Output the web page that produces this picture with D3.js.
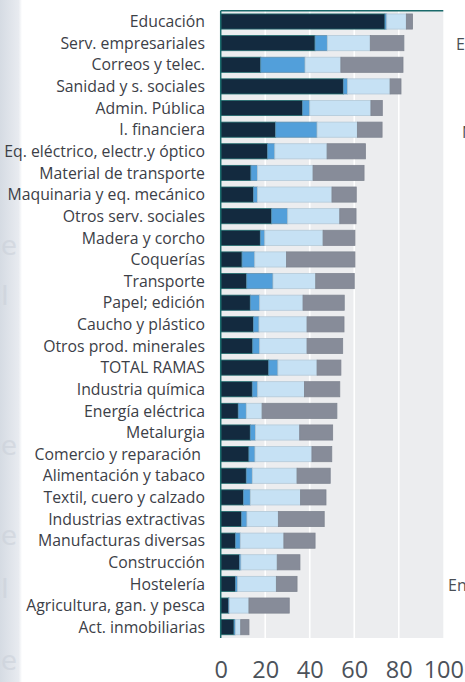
<!DOCTYPE html>
<html>
<head>
<meta charset="utf-8">
<script src="https://cdn.jsdelivr.net/npm/d3@7"></script>
<style>
html,body{margin:0;padding:0;background:#fff;}
svg{display:block;}
</style>
</head>
<body>
<svg id="chart" width="465" height="682"></svg>
<script>
const categories = ["Educación","Serv. empresariales","Correos y telec.","Sanidad y s. sociales","Admin. Pública","I. financiera","Eq. eléctrico, electr.y óptico","Material de transporte","Maquinaria y eq. mecánico","Otros serv. sociales","Madera y corcho","Coquerías","Transporte","Papel; edición","Caucho y plástico","Otros prod. minerales","TOTAL RAMAS","Industria química","Energía eléctrica","Metalurgia","Comercio y reparación ","Alimentación y tabaco","Textil, cuero y calzado","Industrias extractivas","Manufacturas diversas","Construcción","Hostelería","Agricultura, gan. y pesca","Act. inmobiliarias"];
const serie1 = [73.8,42.4,18.0,55.1,36.8,24.7,21.1,13.6,14.7,22.9,17.8,9.6,11.7,13.3,14.7,14.4,21.6,14.2,7.9,13.3,12.7,11.5,10.2,9.4,6.7,8.4,6.6,3.6,6.0];
const serie2 = [0.8,5.5,19.9,1.9,3.2,18.6,3.2,2.9,1.8,7.2,2.0,5.7,11.8,4.2,2.5,3.1,4.1,2.4,3.6,2.3,2.7,2.7,3.1,2.4,2.1,0.7,1.0,0.3,0.6];
const serie3 = [8.8,19.3,16.1,19.1,27.5,18.1,23.5,25.0,33.5,23.4,26.2,14.3,19.2,19.5,21.6,21.3,17.6,21.0,7.1,19.9,25.6,20.1,22.6,14.1,19.6,16.3,17.4,8.8,2.4];
const serie4 = [2.8,15.1,27.9,4.9,5.1,11.1,17.2,22.9,10.9,7.3,14.3,30.7,17.3,18.5,16.6,16.0,10.7,15.9,33.6,14.8,8.9,14.9,11.4,20.6,14.0,10.2,9.3,18.1,3.7];
const xTicks = [0,20,40,60,80,100];

const colors = ["#132a3f","#529fda","#c6e1f4","#878c99"];
const strokes = ["#1e6b6d","#5d8fb0","#b3c9d8","#7f8591"];

const svg = d3.select("#chart");
const mLeft = 220.7, mRight = 443.3, mTop = 10.7, mBottom = 638;

// left decorative faded band (background image in the original)
const defs = svg.append("defs");
const grad = defs.append("linearGradient").attr("id","band").attr("x1","0").attr("x2","1");
grad.append("stop").attr("offset","0").attr("stop-color","#d5dbe3");
grad.append("stop").attr("offset","0.85").attr("stop-color","#e8ebf0");
grad.append("stop").attr("offset","1").attr("stop-color","#ffffff");
svg.append("rect").attr("x",0).attr("y",0).attr("width",22).attr("height",682).attr("fill","url(#band)");
const deco = [["e",255],["I",305],["e",455],["e",545],["I",598],["e",670]];
svg.append("g").selectAll("text").data(deco).join("text")
  .attr("x",1).attr("y",d=>d[1])
  .attr("font-family","DejaVu Sans").attr("font-size",26)
  .attr("fill","#c9cfd8").attr("opacity",0.55)
  .text(d=>d[0]);

const x = d3.scaleLinear().domain([0,100]).range([mLeft,mRight]);
const y = d3.scaleBand().domain(categories).range([mTop,mBottom]).paddingInner(0.3).paddingOuter(0.15);

// plot background
svg.append("rect").attr("x",mLeft).attr("y",mTop).attr("width",mRight-mLeft).attr("height",mBottom-mTop).attr("fill","#ecedef");
// gridlines
svg.append("g").selectAll("line").data(xTicks.slice(1,5)).join("line")
  .attr("x1",d=>x(d)).attr("x2",d=>x(d)).attr("y1",mTop).attr("y2",mBottom)
  .attr("stroke","#ffffff").attr("stroke-width",1.6);

const rows = categories.map((c,i)=>({c, v:[serie1[i],serie2[i],serie3[i],serie4[i]]}));
const stackData = rows.map(r=>{
  let acc=0; return r.v.map((v,k)=>{const s={c:r.c,k,x0:acc,x1:acc+v}; acc+=v; return s;});
}).flat();

svg.append("g").selectAll("rect").data(stackData).join("rect")
  .attr("x",d=>x(d.x0)).attr("width",d=>Math.max(0,x(d.x1)-x(d.x0)))
  .attr("y",d=>y(d.c)).attr("height",y.bandwidth())
  .attr("fill",d=>colors[d.k]).attr("stroke",d=>strokes[d.k]).attr("stroke-width",0.8);

// axes lines
svg.append("line").attr("x1",mLeft).attr("x2",mLeft).attr("y1",mTop).attr("y2",mBottom).attr("stroke","#1a6a6b").attr("stroke-width",1.5);
svg.append("line").attr("x1",mLeft).attr("x2",mRight).attr("y1",mTop).attr("y2",mTop).attr("stroke","#1a6a6b").attr("stroke-width",1.5);

// category labels
svg.append("g").selectAll("text").data(categories).join("text")
  .attr("x",205).attr("y",d=>y(d)+y.bandwidth()/2)
  .attr("dy","0.36em").attr("text-anchor","end")
  .attr("font-family","Open Sans").attr("font-size",15.8)
  .attr("fill","#3c4047").style("white-space","pre")
  .text(d=>d);

// x tick labels
const xAxis = d3.axisBottom(x).tickValues(xTicks).tickSize(0).tickPadding(0);
const ax = svg.append("g").attr("transform",`translate(0,${mBottom})`).call(xAxis);
ax.select(".domain").remove();
ax.selectAll("text").attr("y",0).attr("dy",0).attr("transform","translate(0,40)")
  .attr("font-family","Open Sans").attr("font-size",23.5).attr("fill","#4c525a");

// clipped fragments at the right edge
svg.append("text").attr("x",456).attr("y",50).attr("font-family","Open Sans").attr("font-size",16).attr("fill","#4a4f56").text("E");
svg.append("text").attr("x",462).attr("y",138).attr("font-family","Open Sans").attr("font-size",16).attr("fill","#4a4f56").text("N");
svg.append("text").attr("x",448).attr("y",591).attr("font-family","Open Sans").attr("font-size",16).attr("fill","#4a4f56").text("En");
</script>
</body>
</html>
